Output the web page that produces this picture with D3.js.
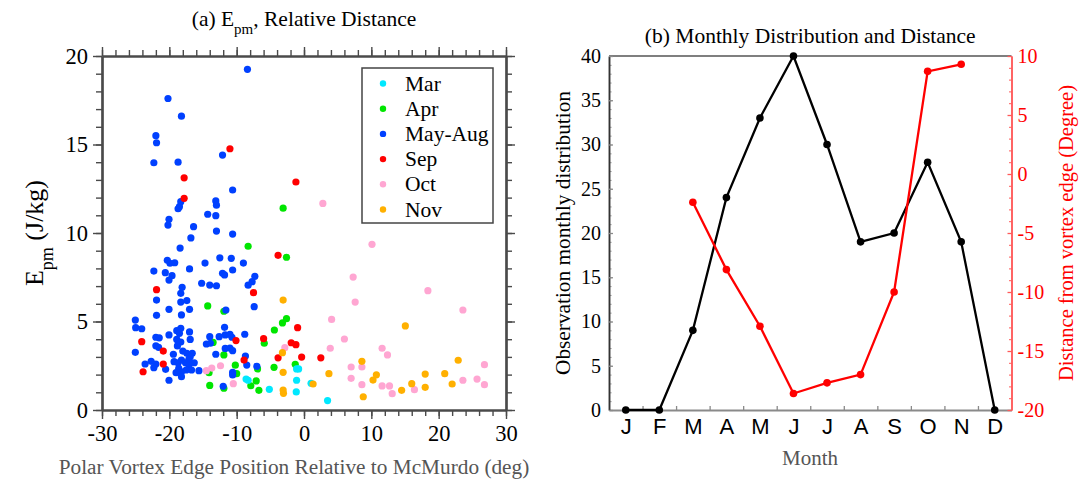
<!DOCTYPE html>
<html>
<head>
<meta charset="utf-8">
<script src="https://cdn.jsdelivr.net/npm/d3@7"></script>
<style>
  body { margin: 0; background: #fff; }
  text { font-family: "Liberation Serif", "Times New Roman", serif; }
</style>
</head>
<body>
<svg id="chart" width="1084" height="482"></svg>
<script>
// ---------- Panel (a): E_pm vs. vortex-edge position, grouped by month ----------
// Each series: [position relative to McMurdo (deg), E_pm (J/kg)]
const marPoints = [
  [-8.6, 1.75], [-8.3, 1.68], [-5.15, 1.17], [-1.1, 2.32], [-0.8, 2.32],
  [-1.1, 1.68], [1.05, 1.51], [-1.15, 1.02], [3.5, 0.53]
];
const aprPoints = [
  [-8.3, 9.25], [-2.6, 8.63], [-3.1, 11.4], [-14.3, 5.88], [-2.6, 5.16],
  [-3.2, 4.92], [-4.4, 4.52], [-13.5, 3.82], [-5.9, 3.77], [-11.9, 3.11],
  [-10.2, 2.53], [-6.9, 2.32], [-4.45, 2.41], [-1.3, 2.58], [-14.1, 2.11],
  [-10.0, 2.05], [-7.1, 1.64], [-7.9, 1.37], [-6.7, 1.11], [-14.0, 1.39],
  [-11.9, 1.23], [-11.9, 5.58]
];
const mayAugPoints = [
  [-8.4, 19.25], [-20.2, 17.6], [-18.2, 16.6], [-22.0, 15.5], [-21.9, 15.1],
  [-12.1, 14.4], [-22.3, 13.97], [-18.7, 14.0], [-10.6, 12.43], [-18.3, 11.77],
  [-18.5, 11.49], [-18.7, 11.37], [-13.1, 11.81], [-13.0, 11.57], [-14.3, 11.06],
  [-13.1, 10.98], [-20.05, 10.77], [-20.2, 10.45], [-16.4, 10.36], [-13.0, 10.11],
  [-10.6, 9.94], [-16.8, 9.72], [-18.4, 9.15], [-20.3, 8.46], [-19.9, 8.29],
  [-19.2, 8.32], [-14.7, 8.3], [-12.5, 8.6], [-10.8, 8.57], [-9.0, 8.3],
  [-22.3, 7.85], [-17.0, 7.97], [-20.6, 7.76], [-19.6, 7.59], [-20.05, 7.34],
  [-12.1, 7.72], [-11.8, 7.63], [-10.6, 7.91], [-7.3, 7.55], [-7.7, 7.25],
  [-8.3, 7.05], [-15.2, 7.16], [-14.0, 7.06], [-13.0, 7.02], [-18.1, 6.93],
  [-18.3, 6.59], [-21.9, 6.21], [-18.3, 6.1], [-17.4, 6.18], [-20.05, 5.69],
  [-17.0, 5.69], [-11.6, 5.65], [-7.4, 5.84], [-18.2, 5.37], [-21.9, 5.35],
  [-25.05, 5.08], [-25.0, 4.65], [-24.1, 4.59], [-11.8, 4.67], [-18.9, 4.48],
  [-18.3, 4.62], [-18.5, 4.33], [-17.0, 4.41], [-20.05, 4.24], [-22.0, 4.11],
  [-21.5, 4.08], [-14.0, 4.14], [-12.6, 4.14], [-11.7, 4.24], [-11.0, 4.28],
  [-10.7, 4.11], [-8.8, 4.28], [-18.9, 3.99], [-16.9, 3.99], [-18.3, 3.84],
  [-18.8, 3.62], [-14.5, 3.73], [-22.0, 3.63], [-21.6, 3.54], [-11.7, 3.48],
  [-11.0, 3.5], [-10.6, 3.35], [-25.05, 3.26], [-18.0, 3.33], [-19.4, 3.15],
  [-13.1, 3.15], [-16.6, 3.2], [-17.4, 3.2], [-16.9, 3.01], [-8.7, 3.05],
  [-7.0, 2.47], [-23.6, 2.6], [-22.7, 2.75], [-22.3, 2.39], [-22.0, 2.6],
  [-20.55, 2.3], [-19.3, 2.73], [-18.7, 2.67], [-18.2, 2.82], [-17.6, 2.67],
  [-17.1, 2.54], [-18.6, 2.36], [-18.2, 2.16], [-17.5, 2.26], [-19.0, 2.11],
  [-18.2, 1.88], [-20.05, 1.68], [-17.1, 2.86], [-16.3, 2.67], [-16.7, 2.26],
  [-15.6, 2.22], [-10.6, 2.13], [-10.6, 1.98], [-12.0, 1.34], [-8.5, 2.54],
  [-13.9, 3.77]
];
const sepPoints = [
  [-11.0, 14.76], [-17.8, 13.12], [-17.8, 11.96], [-1.2, 12.88], [-3.85, 8.74],
  [-21.9, 6.8], [-7.5, 6.63], [-0.95, 4.65], [-6.0, 4.03], [-1.9, 3.8],
  [-1.2, 3.69], [-10.1, 3.92], [-24.1, 3.86], [-20.9, 3.33], [-3.85, 2.95],
  [-0.35, 2.99], [2.5, 2.95], [-8.9, 2.82], [-20.9, 2.6], [-23.9, 2.16]
];
const octPoints = [
  [2.8, 11.67], [10.1, 9.36], [7.3, 7.51], [7.6, 6.1], [18.4, 6.74],
  [23.6, 5.65], [4.1, 5.12], [6.0, 4.01], [-2.85, 3.52], [3.9, 3.49],
  [11.6, 3.49], [12.4, 3.11], [7.0, 2.43], [8.6, 2.43], [7.0, 1.79],
  [8.6, 1.43], [11.6, 1.36], [12.7, 1.36], [13.1, 0.92], [16.4, 1.15],
  [26.8, 2.56], [25.7, 1.75], [23.6, 1.68], [26.8, 1.43], [-14.5, 2.22],
  [-13.7, 2.37], [-12.4, 2.5], [-10.5, 1.49]
];
const novPoints = [
  [-3.1, 6.21], [15.05, 4.75], [-3.2, 3.24], [-3.1, 2.13], [8.6, 2.75],
  [3.7, 2.05], [10.75, 1.99], [10.25, 1.69], [1.35, 1.47], [14.5, 1.11],
  [16.0, 1.49], [-3.1, 1.13], [-3.05, 0.94], [8.8, 0.75], [22.9, 2.81],
  [18.0, 2.03], [20.9, 2.05], [22.0, 1.47], [18.0, 1.28]
];

const seriesNames  = ["Mar", "Apr", "May-Aug", "Sep", "Oct", "Nov"];
const seriesColors = ["#00e8ff", "#00e600", "#0040ff", "#ff0000", "#ffa6d2", "#ffb000"];
const seriesPoints = [marPoints, aprPoints, mayAugPoints, sepPoints, octPoints, novPoints];
// painting order (later on top)
const drawOrder = [1, 2, 0, 3, 4, 5];

// ---------- Panel (b): monthly counts and mean distance ----------
const months = ["J", "F", "M", "A", "M", "J", "J", "A", "S", "O", "N", "D"];
const monthlyCount = [0, 0, 9, 24, 33, 40, 30, 19, 20, 28, 19, 0];
const monthlyDistance = [null, null, -2.4, -8.1, -12.9, -18.6, -17.7, -17.0, -10.0, 8.7, 9.3, null];

const countTicks = [0, 5, 10, 15, 20, 25, 30, 35, 40];
const distTicks = [-20, -15, -10, -5, 0, 5, 10];
const epmTicks = [0, 5, 10, 15, 20];
const posTicks = [-30, -20, -10, 0, 10, 20, 30];

const svg = d3.select("#chart");
const fmt = d => String(d);

// ===== Panel (a) =====
const aL = 102, aR = 506, aT = 56, aB = 410;
const xA = d3.scaleLinear().domain([-30, 30]).range([aL, aR]);
const yA = d3.scaleLinear().domain([0, 20]).range([aB, aT]);
const gA = svg.append("g");

const axisGrey = "#4a4a4a";
function styleAxis(g, color, width, fontSize) {
  g.select(".domain").attr("stroke", color).attr("stroke-width", width);
  g.selectAll(".tick line").attr("stroke", color).attr("stroke-width", 1.4);
  g.selectAll(".tick text")
    .attr("fill", "#000")
    .style("font-family", "'Liberation Serif', serif")
    .style("font-size", fontSize + "px");
}

// minor ticks
const yMinor = d3.range(0, 21, 1), xMinor = d3.range(-30, 31, 2);
[
  [d3.axisLeft(yA).tickValues(yMinor).tickSize(6).tickFormat(""), `translate(${aL},0)`],
  [d3.axisRight(yA).tickValues(yMinor).tickSize(6).tickFormat(""), `translate(${aR},0)`],
  [d3.axisBottom(xA).tickValues(xMinor).tickSize(6).tickFormat(""), `translate(0,${aB})`],
  [d3.axisTop(xA).tickValues(xMinor).tickSize(6).tickFormat(""), `translate(0,${aT})`]
].forEach(([ax, tr]) => {
  const g = gA.append("g").attr("transform", tr).call(ax.tickSizeOuter(0));
  styleAxis(g, axisGrey, 2.2, 22);
});
// major ticks with labels
const gAy = gA.append("g").attr("transform", `translate(${aL},0)`)
  .call(d3.axisLeft(yA).tickValues(epmTicks).tickSize(9).tickSizeOuter(0).tickPadding(5).tickFormat(fmt));
styleAxis(gAy, axisGrey, 2.2, 22.5);
const gAx = gA.append("g").attr("transform", `translate(0,${aB})`)
  .call(d3.axisBottom(xA).tickValues(posTicks).tickSize(9).tickSizeOuter(0).tickPadding(6).tickFormat(fmt));
styleAxis(gAx, axisGrey, 2.2, 22.5);
const gAr = gA.append("g").attr("transform", `translate(${aR},0)`)
  .call(d3.axisRight(yA).tickValues(epmTicks).tickSize(9).tickSizeOuter(0).tickFormat(""));
styleAxis(gAr, axisGrey, 2.2, 22);
const gAt = gA.append("g").attr("transform", `translate(0,${aT})`)
  .call(d3.axisTop(xA).tickValues(posTicks).tickSize(9).tickSizeOuter(0).tickFormat(""));
styleAxis(gAt, axisGrey, 2.2, 22);

// scatter points
drawOrder.forEach(i => {
  gA.append("g").selectAll("circle")
    .data(seriesPoints[i]).join("circle")
    .attr("cx", d => xA(d[0]))
    .attr("cy", d => yA(d[1]))
    .attr("r", 3.6)
    .attr("fill", seriesColors[i]);
});

// legend
const leg = gA.append("g");
leg.append("rect").attr("x", 362).attr("y", 68).attr("width", 131).attr("height", 155)
  .attr("fill", "#fff").attr("stroke", "#444").attr("stroke-width", 1.5);
seriesNames.forEach((name, i) => {
  const cy = 83.5 + i * 25.2;
  leg.append("circle").attr("cx", 383).attr("cy", cy).attr("r", 3.2).attr("fill", seriesColors[i]);
  leg.append("text").attr("x", 405).attr("y", cy + 7).style("font-size", "21.5px").text(name);
});

// titles and labels
const titleA = gA.append("text").attr("x", (aL + aR) / 2).attr("y", 26)
  .attr("text-anchor", "middle").style("font-size", "21.5px");
titleA.append("tspan").text("(a) E");
titleA.append("tspan").attr("baseline-shift", "sub").style("font-size", "15px").text("pm");
titleA.append("tspan").text(", Relative Distance");

const yLabA = gA.append("text")
  .attr("transform", `translate(43,${(aT + aB) / 2}) rotate(-90)`)
  .attr("text-anchor", "middle").style("font-size", "26px");
yLabA.append("tspan").text("E");
yLabA.append("tspan").attr("baseline-shift", "sub").style("font-size", "18px").text("pm");
yLabA.append("tspan").text(" (J/kg)");

gA.append("text").attr("x", 294).attr("y", 474).attr("text-anchor", "middle")
  .attr("fill", "#555").style("font-size", "21.3px")
  .text("Polar Vortex Edge Position Relative to McMurdo (deg)");

// ===== Panel (b) =====
const bL = 609, bR = 1011.5, bT = 56, bB = 410;
const xB = d3.scaleLinear().domain([0.5, 12.5]).range([bL, bR]);
const yCount = d3.scaleLinear().domain([0, 40]).range([bB, bT]);
const yDist = d3.scaleLinear().domain([-20, 10]).range([bB, bT]);
const gB = svg.append("g");
const red = "#ff0000", redAxis = "#ff5a5a";

// top frame line
gB.append("line").attr("x1", bL).attr("x2", bR).attr("y1", bT).attr("y2", bT)
  .attr("stroke", "#000").attr("stroke-width", 1.2);

// bottom axis: boundaries between months + month letters
const gBxt = gB.append("g").attr("transform", `translate(0,${bB})`)
  .call(d3.axisBottom(xB).tickValues(d3.range(1.5, 12, 1)).tickSizeInner(-4).tickSizeOuter(0).tickFormat(""));
gBxt.select(".domain").attr("stroke", "#8a8a8a").attr("stroke-width", 2);
gBxt.selectAll(".tick line").attr("stroke", "#8a8a8a").attr("stroke-width", 1.3);
const gBxl = gB.append("g").attr("transform", `translate(0,${bB})`)
  .call(d3.axisBottom(xB).tickValues(d3.range(1, 13)).tickSize(0).tickPadding(8)
    .tickFormat(d => months[d - 1]));
gBxl.select(".domain").remove();
gBxl.selectAll(".tick text").attr("fill", "#000")
  .style("font-family", "'Liberation Sans', Arial, sans-serif").style("font-size", "22px");

// left axis (counts)
const gByMinor = gB.append("g").attr("transform", `translate(${bL},0)`)
  .call(d3.axisLeft(yCount).tickValues(d3.range(0, 41)).tickSizeInner(-2.5).tickSizeOuter(0).tickFormat(""));
gByMinor.selectAll(".tick line").attr("stroke", "#8a8a8a");
gByMinor.select(".domain").attr("stroke", "#333").attr("stroke-width", 1.5);
const gBy = gB.append("g").attr("transform", `translate(${bL},0)`)
  .call(d3.axisLeft(yCount).tickValues(countTicks).tickSizeInner(-4).tickSizeOuter(0).tickPadding(8).tickFormat(fmt));
gBy.select(".domain").attr("stroke", "#333").attr("stroke-width", 1.5);
gBy.selectAll(".tick line").attr("stroke", "#8a8a8a").attr("stroke-width", 1.3);
gBy.selectAll(".tick text").attr("fill", "#000")
  .style("font-family", "'Liberation Serif', serif").style("font-size", "20px");

// right axis (distance)
const gBrMinor = gB.append("g").attr("transform", `translate(${bR},0)`)
  .call(d3.axisRight(yDist).tickValues(d3.range(-20, 11)).tickSizeInner(-2.5).tickSizeOuter(0).tickFormat(""));
gBrMinor.selectAll(".tick line").attr("stroke", redAxis);
gBrMinor.select(".domain").attr("stroke", redAxis).attr("stroke-width", 1.5);
const gBr = gB.append("g").attr("transform", `translate(${bR},0)`)
  .call(d3.axisRight(yDist).tickValues(distTicks).tickSizeInner(-4).tickSizeOuter(0).tickPadding(6).tickFormat(fmt));
gBr.select(".domain").attr("stroke", redAxis).attr("stroke-width", 1.5);
gBr.selectAll(".tick line").attr("stroke", redAxis).attr("stroke-width", 1.3);
gBr.selectAll(".tick text").attr("fill", red)
  .style("font-family", "'Liberation Serif', serif").style("font-size", "20px");

// count line (black)
const countData = monthlyCount.map((v, i) => ({ m: i + 1, v }));
gB.append("path").datum(countData)
  .attr("fill", "none").attr("stroke", "#000").attr("stroke-width", 2.3)
  .attr("d", d3.line().x(d => xB(d.m)).y(d => yCount(d.v)));
gB.append("g").selectAll("circle").data(countData).join("circle")
  .attr("cx", d => xB(d.m)).attr("cy", d => yCount(d.v)).attr("r", 3.8).attr("fill", "#000");

// distance line (red)
const distData = monthlyDistance.map((v, i) => ({ m: i + 1, v })).filter(d => d.v !== null);
gB.append("path").datum(distData)
  .attr("fill", "none").attr("stroke", red).attr("stroke-width", 2.3)
  .attr("d", d3.line().x(d => xB(d.m)).y(d => yDist(d.v)));
gB.append("g").selectAll("circle").data(distData).join("circle")
  .attr("cx", d => xB(d.m)).attr("cy", d => yDist(d.v)).attr("r", 3.8).attr("fill", red);

// titles and labels
gB.append("text").attr("x", (bL + bR) / 2).attr("y", 43).attr("text-anchor", "middle")
  .style("font-size", "21.5px").text("(b) Monthly Distribution and Distance");
gB.append("text").attr("transform", `translate(570,${(bT + bB) / 2}) rotate(-90)`)
  .attr("text-anchor", "middle").style("font-size", "21.3px").text("Observation monthly distribution");
gB.append("text").attr("transform", `translate(1073,${(bT + bB) / 2}) rotate(-90)`)
  .attr("text-anchor", "middle").attr("fill", red).style("font-size", "20.5px")
  .text("Distance from vortex edge (Degree)");
gB.append("text").attr("x", 810).attr("y", 465).attr("text-anchor", "middle")
  .attr("fill", "#555").style("font-size", "21px").text("Month");
</script>
</body>
</html>
